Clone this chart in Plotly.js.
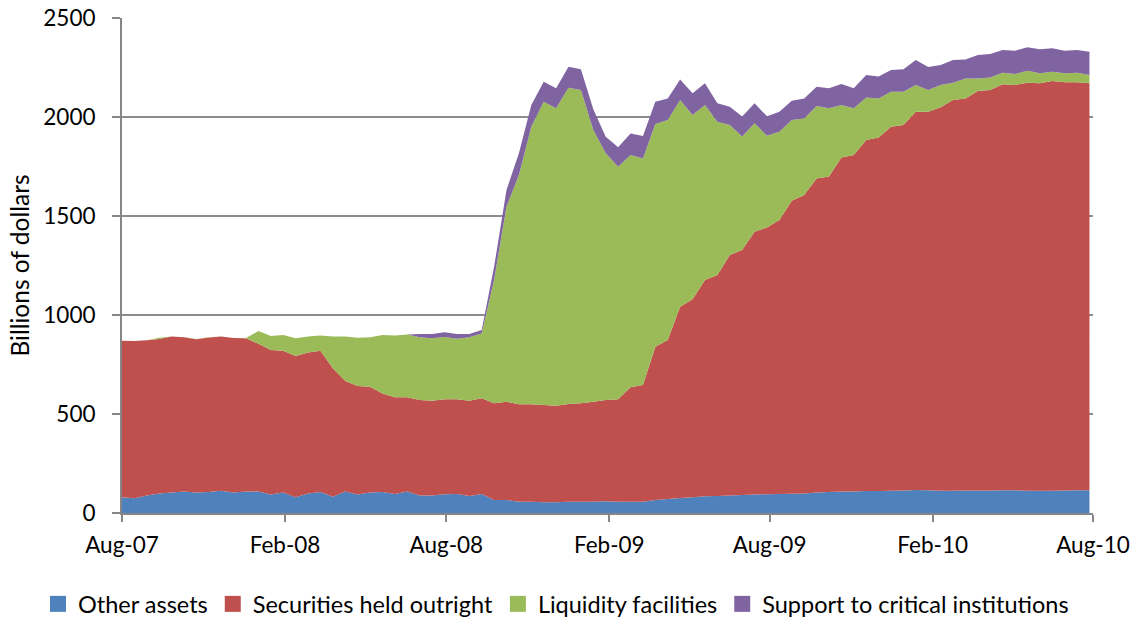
<!DOCTYPE html>
<html>
<head>
<meta charset="utf-8">
<script src="https://cdn.plot.ly/plotly-3.0.1.min.js"></script>
<style>
  html, body { margin: 0; padding: 0; background: #ffffff; }
  #chart { width: 1141px; height: 623px; }
</style>
</head>
<body>
<div id="chart"></div>
<script>
// Biweekly observations starting 1 Aug 2007 (billions of dollars)
const startDate = '2007-08-01';
const stepDays = 14;

const otherAssets = [
  79, 74, 89, 99, 103, 108, 103, 106, 113, 103, 109, 108, 94, 103, 79, 99,
  106, 82, 108, 94, 103, 106, 96, 108, 89, 89, 95, 96, 86, 96, 66, 66,
  57, 57, 54, 54, 57, 57, 57, 59, 57, 57, 57, 66, 71, 76, 79, 84,
  86, 89, 91, 94, 95, 96, 97, 99, 103, 106, 109, 109, 111, 111, 113, 114,
  116, 115, 112, 113, 114, 114, 114, 115, 115, 113, 112, 113, 114, 115, 115
];

const securitiesHeld = [
  791, 795, 783, 780, 788, 779, 774, 780, 779, 781, 773, 747, 729, 717, 714, 711,
  714, 649, 559, 547, 535, 498, 488, 476, 482, 478, 479, 478, 481, 483, 488, 496,
  492, 492, 491, 488, 494, 497, 505, 512, 517, 578, 589, 774, 803, 966, 1000, 1093,
  1116, 1214, 1237, 1327, 1347, 1384, 1480, 1507, 1587, 1593, 1687, 1699, 1773, 1786, 1838, 1846,
  1911, 1912, 1937, 1973, 1980, 2017, 2022, 2050, 2047, 2060, 2058, 2069, 2061, 2060, 2055
];

const liquidityFacilities = [
  0, 0, 0, 6, 0, 0, 2, 1, 0, 0, 2, 64, 71, 79, 89, 81,
  77, 160, 224, 244, 249, 295, 313, 317, 316, 315, 315, 306, 320, 328, 623, 985,
  1158, 1402, 1532, 1502, 1597, 1582, 1372, 1246, 1175, 1173, 1145, 1125, 1111, 1044, 931, 884,
  774, 657, 573, 547, 463, 446, 408, 387, 366, 345, 265, 236, 215, 197, 177, 168,
  135, 109, 113, 87, 101, 64, 64, 59, 55, 61, 51, 47, 46, 49, 42
];

const supportCritical = [
  0, 0, 0, 0, 0, 0, 0, 0, 0, 0, 0, 0, 0, 0, 0, 0,
  0, 0, 0, 0, 0, 0, 0, 0, 17, 22, 24, 24, 17, 17, 67, 84,
  110, 110, 101, 101, 106, 105, 105, 83, 98, 109, 113, 112, 109, 104, 110, 109,
  93, 92, 101, 101, 99, 101, 97, 101, 97, 101, 106, 101, 113, 110, 109, 113,
  126, 116, 101, 115, 96, 118, 118, 114, 118, 118, 121, 118, 114, 114, 118
];

const seriesNames = ['Other assets', 'Securities held outright', 'Liquidity facilities', 'Support to critical institutions'];
const seriesColors = ['#4F81BD', '#C0504D', '#9BBB59', '#8064A2'];

const tickDates = ['2007-08-01', '2008-02-01', '2008-08-01', '2009-02-01', '2009-08-01', '2010-02-01', '2010-08-01'];
const tickLabels = ['Aug-07', 'Feb-08', 'Aug-08', 'Feb-09', 'Aug-09', 'Feb-10', 'Aug-10'];

const dates = [];
{
  const d0 = new Date(startDate + 'T00:00:00Z');
  for (let i = 0; i < otherAssets.length; i++) {
    const d = new Date(d0.getTime() + i * stepDays * 86400000);
    dates.push(d.toISOString().slice(0, 10));
  }
}

const allSeries = [otherAssets, securitiesHeld, liquidityFacilities, supportCritical];
const traces = [];
allSeries.forEach((vals, i) => {
  traces.push({
    x: dates, y: vals, type: 'scatter', mode: 'none',
    stackgroup: 'one', fillcolor: seriesColors[i],
    line: {width: 0}, name: seriesNames[i], showlegend: false,
    hoverinfo: 'x+y+name'
  });
});
// legend swatches
allSeries.forEach((vals, i) => {
  traces.push({
    x: [null], y: [null], type: 'scatter', mode: 'markers',
    marker: {symbol: 'square', size: 16, color: seriesColors[i]},
    name: seriesNames[i], showlegend: true, hoverinfo: 'skip'
  });
});

const fontFam = 'Lato, "Open Sans", sans-serif';
const tickFont = {family: fontFam, size: 22.5, color: '#000000'};
const layout = {
  width: 1141, height: 623,
  margin: {l: 122, r: 48, t: 18, b: 110, autoexpand: false},
  paper_bgcolor: '#ffffff', plot_bgcolor: '#ffffff',
  font: {family: fontFam, size: 22, color: '#000000'},
  showlegend: true,
  legend: {
    orientation: 'h', traceorder: 'normal',
    x: -0.0865, xanchor: 'left', y: -0.184, yanchor: 'middle',
    font: {family: fontFam, size: 23.5, color: '#000000'},
    itemwidth: 30, tracegroupgap: 0
  },
  xaxis: {
    type: 'date', range: ['2007-08-01', '2010-08-01'],
    tickmode: 'array', tickvals: tickDates, ticktext: tickLabels,
    showgrid: false, zeroline: false,
    showline: true, linecolor: '#868686', linewidth: 2,
    ticks: 'outside', ticklen: 7, tickcolor: '#868686', tickwidth: 2,
    ticklabelstandoff: 4,
    tickfont: tickFont
  },
  yaxis: {
    range: [0, 2500], tickmode: 'linear', tick0: 0, dtick: 500,
    showgrid: true, gridcolor: '#8c8c8c', gridwidth: 2,
    zeroline: false,
    showline: true, linecolor: '#868686', linewidth: 2,
    ticks: 'outside', ticklen: 8, tickcolor: '#868686', tickwidth: 2,
    ticklabelstandoff: 12,
    tickfont: tickFont,
    title: {text: 'Billions of dollars', font: {family: fontFam, size: 24.5, color: '#000000'}, standoff: 7}
  }
};

Plotly.newPlot('chart', traces, layout, {displayModeBar: false, staticPlot: true});
</script>
</body>
</html>
